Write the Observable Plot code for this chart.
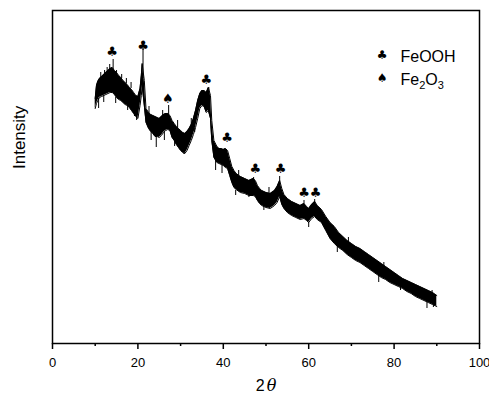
<!DOCTYPE html>
<html><head><meta charset="utf-8">
<script src="https://cdn.jsdelivr.net/npm/d3@7"></script>
<script src="https://cdn.jsdelivr.net/npm/@observablehq/plot@0.6"></script>
<style>html,body{margin:0;padding:0;background:#fff;} svg{display:block;}</style>
</head><body><div id="chart"></div>
<script>
// 2θ positions (degrees) and the upper / lower edges of the noisy trace (a.u.)
const theta = [10.0,10.3,10.6,11.0,11.5,12.0,12.5,13.0,13.5,14.0,14.5,15.0,15.5,16.0,16.5,17.0,17.5,18.0,18.5,19.0,19.5,20.0,20.5,20.8,21.0,21.5,21.9,22.5,23.0,23.5,24.0,24.5,25.0,25.5,26.0,26.5,27.0,27.5,28.0,28.5,29.0,29.5,30.0,30.5,31.0,31.5,32.0,32.5,33.0,33.5,34.0,34.5,35.0,35.5,36.0,36.5,37.0,37.3,37.8,38.5,39.0,39.5,40.0,40.5,41.0,41.5,42.0,42.5,43.0,44.0,45.0,46.0,47.0,47.5,48.0,48.5,49.0,50.0,51.0,52.0,52.6,53.2,53.7,54.2,55.0,56.0,57.0,58.0,58.9,59.5,60.0,60.7,61.4,62.0,63.0,64.0,65.0,66.0,67.0,68.0,69.0,70.0,71.0,72.0,73.0,74.0,75.0,76.0,77.0,78.0,79.0,80.0,81.0,82.0,83.0,84.0,85.0,86.0,87.0,88.0,89.0,90.0];
const upper = [245,258,262,265,267,269,271,273,275,276,273,271,268,266,263,261,259,256,254,251,248,247,255,268,280,263,235,231,229,228,227,226,225,227,229,230,230,228,223,220,217,215,213,211,210,212,215,219,225,233,243,250,253,253,251,256,248,223,203,197,195,195,194,195,193,185,177,173,170,167,165,163,165,163,158,155,153,151,150,153,157,163,155,149,145,142,140,138,140,137,135,139,142,138,134,127,121,117,111,107,103,100,97,95,92,89,86,83,80,77,74,71,68,65,63,61,59,57,55,53,51,48];
const lower = [235,240,243,246,247,248,249,250,251,251,249,246,244,243,241,239,238,236,233,230,227,225,238,248,258,238,221,215,212,210,207,207,206,208,211,213,214,213,206,203,199,196,193,191,190,193,198,203,209,216,225,235,238,237,231,233,225,203,186,181,180,179,178,176,175,168,161,156,154,151,150,148,148,147,143,140,138,136,135,138,141,147,139,135,131,128,126,124,125,123,121,125,127,124,121,113,105,100,96,93,89,86,83,81,78,75,72,69,66,64,61,59,57,55,52,50,47,45,43,41,39,37];

// isolated spikes of the trace: position, tip, and the band edge they leave from
const spikeTheta = [11.3,12.2,12.8,13.4,14.2,15.0,16.2,17.3,18.4,21.2,22.6,25.8,27.2,29.3,32.5,36.6,43.6,47.1,50.7,53.2,58.9,61.4,69.3,77.6,88.9,
                    10.8,12.0,14.8,17.6,19.2,19.7,23.1,24.3,26.2,28.6,30.8,33.3,38.2,39.7,42.9,46.0,49.5,60.0,66.7,76.4,81.5,87.7,89.2];
const spikeTip   = [271,273,276,279,284,273,269,265,261,295,237,233,238,223,225,256,173,166,156,167,143,144,106,81,53,
                    235,241,240,233,227,223,203,196,203,197,189,211,173,170,148,146,133,116,91,61,53,35,36];
const spikeBase  = [265,268,270,272,270,269,265,260,255,265,230,226,225,215,218,248,168,160,150,160,137,138,101,77,49,
                    245,248,246,238,230,228,212,207,211,203,192,215,183,179,153,149,137,121,98,68,57,42,40];

// peak markers
const feoohPeaks = [13.97,21.2,36.0,40.9,47.5,53.4,58.9,61.6];
const feoohMark  = [292,298,264,206,175,175,151,151];
const fe2o3Peaks = [27.0];
const fe2o3Mark  = [245];

const xTicks = [0,20,40,60,80,100];
const xMinorTicks = [10,30,50,70,90];
const legendLabels = ["FeOOH","Fe2O3"];

const data = theta.map((t,i)=>({t, hi: upper[i], lo: lower[i]}));
const spikes = spikeTheta.map((t,i)=>({t, tip: spikeTip[i], base: spikeBase[i]}));
const clubs = feoohPeaks.map((t,i)=>({t, y: feoohMark[i]}));
const spades = fe2o3Peaks.map((t,i)=>({t, y: fe2o3Mark[i]}));

const sym = "'DejaVu Sans', sans-serif";
const plot = Plot.plot({
  width: 489, height: 398,
  marginLeft: 52, marginRight: 10, marginTop: 10, marginBottom: 55,
  x: {domain: [0,100]},
  y: {domain: [0,333], axis: null},
  style: {fontFamily: "'Liberation Sans', Arial, sans-serif", background: "white", color: "black", overflow: "visible"},
  marks: [
    Plot.areaY(data, {x: "t", y1: "lo", y2: "hi", fill: "black"}),
    Plot.line(data, {x: "t", y: "hi", stroke: "black", strokeWidth: 1}),
    Plot.line(data, {x: "t", y: "lo", stroke: "black", strokeWidth: 1}),
    Plot.ruleX(spikes, {x: "t", y1: "base", y2: "tip", stroke: "black", strokeWidth: 1}),
    Plot.text(clubs, {x: "t", y: "y", text: () => "\u2663", fontSize: 13, fontFamily: sym, fill: "black"}),
    Plot.text(spades, {x: "t", y: "y", text: () => "\u2660", fontSize: 13, fontFamily: sym, fill: "black"}),
    Plot.frame({stroke: "black", strokeWidth: 1.5}),
    Plot.axisX({ticks: xTicks, tickSize: 6, tickPadding: 8, fontSize: 13, label: null, strokeWidth: 1.5, tickFormat: d => String(d)}),
    Plot.axisX({ticks: xMinorTicks, tickSize: 3, text: null, label: null, strokeWidth: 1.5}),
    Plot.text(["Intensity"], {frameAnchor: "left", dx: -33, dy: -8, rotate: -90, fontSize: 17}),
    Plot.text(["2θ"], {frameAnchor: "bottom", dy: 47, fontSize: 16}),
    Plot.text(["\u2663"], {frameAnchor: "top-right", dx: -92, dy: 40, fontSize: 12, fontFamily: sym}),
    Plot.text(["\u2660"], {frameAnchor: "top-right", dx: -92, dy: 63, fontSize: 12, fontFamily: sym}),
    Plot.text([legendLabels[0]], {frameAnchor: "top-right", dx: -79, dy: 40, textAnchor: "start", fontSize: 16}),
    Plot.text([legendLabels[1]], {frameAnchor: "top-right", dx: -79, dy: 63, textAnchor: "start", fontSize: 16})
  ]
});
document.getElementById("chart").appendChild(plot);

// subscripts and italic theta
d3.select(plot).selectAll("text").each(function() {
  const el = d3.select(this);
  if (this.textContent === "Fe2O3") {
    el.text(null);
    el.append("tspan").text("Fe");
    el.append("tspan").attr("font-size", 11).attr("dy", "4").text("2");
    el.append("tspan").attr("dy", "-4").text("O");
    el.append("tspan").attr("font-size", 11).attr("dy", "4").text("3");
  } else if (this.textContent === "2θ") {
    el.text(null);
    el.append("tspan").text("2");
    el.append("tspan").attr("dx", 2).attr("font-style", "italic").attr("font-family", "'DejaVu Serif', serif").text("θ");
  }
});
</script></body></html>
